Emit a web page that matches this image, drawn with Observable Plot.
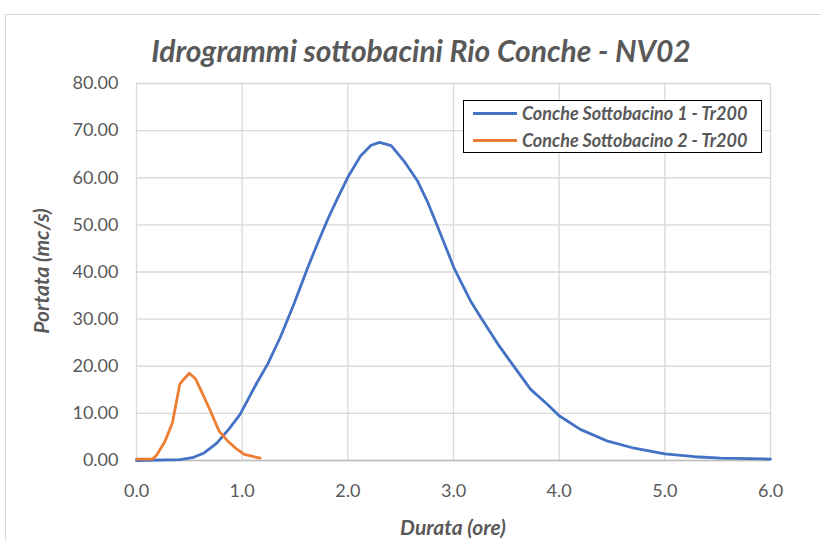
<!DOCTYPE html>
<html>
<head>
<meta charset="utf-8">
<script src="https://cdn.jsdelivr.net/npm/d3@7"></script>
<script src="https://cdn.jsdelivr.net/npm/@observablehq/plot@0.6"></script>
<style>
  html, body { margin: 0; padding: 0; background: #fff; }
  #chart { position: relative; width: 821px; height: 541px; overflow: hidden; background: #fff; font-family: Lato, "Open Sans", sans-serif; }
  #frame { position: absolute; left: 5px; top: 14px; width: 840px; height: 560px; border: 1px solid #d9d9d9; box-sizing: border-box; }
  #plot { position: absolute; left: 0; top: 0; }
  .lbl { position: absolute; font-weight: bold; font-style: italic; color: #595959; white-space: nowrap; line-height: 1; }
  #title { left: 0; width: 842px; top: 35px; text-align: center; font-size: 30px; }
  #xlabel { left: 0; width: 906px; top: 516px; text-align: center; font-size: 21px; }
  #ylabel { left: 40px; top: 271px; font-size: 21px; transform: translate(-50%, -50%) rotate(-90deg); }
  #legend { position: absolute; left: 463px; top: 100px; width: 299px; height: 53px; border: 1px solid #000; box-sizing: border-box; background: #fff; }
  .item { position: absolute; left: 9px; height: 22px; display: flex; align-items: center; }
  .swatch { width: 44px; height: 3px; margin-right: 5px; }
  .item span { font-weight: bold; font-style: italic; color: #595959; font-size: 18px; }
</style>
</head>
<body>
<div id="chart">
  <div id="frame"></div>
  <div id="plot"></div>
  <div id="title" class="lbl"></div>
  <div id="xlabel" class="lbl"></div>
  <div id="ylabel" class="lbl"></div>
  <div id="legend"></div>
</div>
<script>
// ---- data ----
const titleText = "Idrogrammi sottobacini Rio Conche - NV02";
const xLabel = "Durata (ore)";
const yLabel = "Portata (mc/s)";
const seriesNames = ["Conche Sottobacino 1 - Tr200", "Conche Sottobacino 2 - Tr200"];
const seriesColors = ["#4472C4", "#ED7D31"];

const xTicks = [0, 1, 2, 3, 4, 5, 6];
const yTicks = [0, 10, 20, 30, 40, 50, 60, 70, 80];

// Sottobacino 1: time (h) and discharge (m3/s)
const s1Time = [0, 0.41, 0.53, 0.64, 0.76, 0.88, 0.98, 1.14, 1.24, 1.36, 1.49, 1.62, 1.71, 1.81, 1.90, 2.00, 2.12, 2.22, 2.30, 2.41, 2.53, 2.66, 2.75, 2.85, 3.01, 3.16, 3.26, 3.42, 3.58, 3.73, 3.89, 4.00, 4.20, 4.46, 4.71, 5.00, 5.28, 5.53, 6.00];
const s1Flow = [0, 0.2, 0.6, 1.6, 3.7, 6.8, 9.8, 16.5, 20.4, 26.1, 33.2, 40.9, 45.9, 51.2, 55.5, 60.1, 64.6, 66.9, 67.5, 66.8, 63.6, 59.3, 55.1, 49.6, 40.6, 33.9, 30.3, 24.7, 19.7, 15.1, 11.9, 9.5, 6.6, 4.1, 2.6, 1.4, 0.8, 0.5, 0.3];

// Sottobacino 2
const s2Time = [0, 0.15, 0.19, 0.27, 0.34, 0.41, 0.45, 0.50, 0.56, 0.62, 0.70, 0.78, 0.86, 0.95, 1.02, 1.11, 1.17];
const s2Flow = [0.3, 0.3, 1.1, 4.1, 8.0, 16.2, 17.3, 18.5, 17.3, 14.4, 10.5, 6.3, 4.2, 2.4, 1.3, 0.8, 0.5];

// ---- build tables ----
const s1 = s1Time.map((t, i) => ({t, v: s1Flow[i]}));
const s2 = s2Time.map((t, i) => ({t, v: s2Flow[i]}));

const grid = {stroke: "#d9d9d9", strokeOpacity: 1, strokeWidth: 1.3};

const chart = Plot.plot({
  width: 821,
  height: 541,
  marginLeft: 136,
  marginRight: 51,
  marginTop: 83,
  marginBottom: 81,
  x: {domain: [0, 6]},
  y: {domain: [0, 80]},
  style: {background: "transparent", fontFamily: "Lato, 'Open Sans', sans-serif", fontSize: "18px", color: "#595959"},
  marks: [
    Plot.gridX({ticks: xTicks, ...grid}),
    Plot.gridY({ticks: yTicks, ...grid}),
    Plot.ruleY([0], {stroke: "#bfbfbf", strokeWidth: 1.5}),
    Plot.line(s1, {x: "t", y: "v", stroke: seriesColors[0], strokeWidth: 2.8}),
    Plot.line(s2, {x: "t", y: "v", stroke: seriesColors[1], strokeWidth: 2.8}),
    Plot.axisX({ticks: xTicks, tickFormat: d3.format(".1f"), tickSize: 0, tickPadding: 24, label: null}),
    Plot.axisY({ticks: yTicks, tickFormat: d3.format(".2f"), tickSize: 0, tickPadding: 18, label: null})
  ]
});
document.getElementById("plot").appendChild(chart);

document.getElementById("title").textContent = titleText;
document.getElementById("xlabel").textContent = xLabel;
document.getElementById("ylabel").textContent = yLabel;

const legend = document.getElementById("legend");
seriesNames.forEach((name, i) => {
  const it = document.createElement("div");
  it.className = "item";
  it.style.top = (1 + i * 27) + "px";
  const sw = document.createElement("div");
  sw.className = "swatch";
  sw.style.background = seriesColors[i];
  const sp = document.createElement("span");
  sp.textContent = name;
  it.appendChild(sw);
  it.appendChild(sp);
  legend.appendChild(it);
});
</script>
</body>
</html>
